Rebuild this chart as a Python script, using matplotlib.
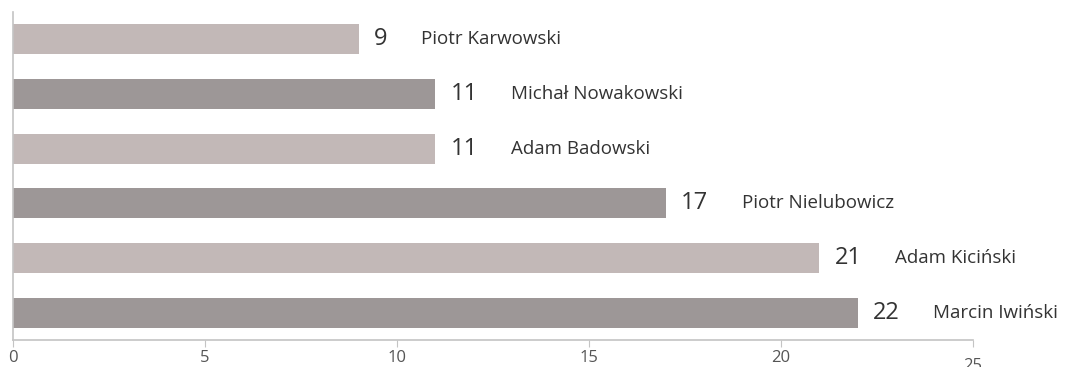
import matplotlib
matplotlib.use("Agg")
import matplotlib.pyplot as plt
from matplotlib.transforms import ScaledTranslation

names = ["Piotr Karwowski", "Michał Nowakowski", "Adam Badowski",
         "Piotr Nielubowicz", "Adam Kiciński", "Marcin Iwiński"]
values = [9, 11, 11, 17, 21, 22]
ticks = [0, 5, 10, 15, 20, 25]

light = "#c2b8b7"
dark = "#9d9797"
colors = [light if i % 2 == 0 else dark for i in range(len(values))]

plt.rcParams["font.family"] = ["Open Sans", "DejaVu Sans"]

fig = plt.figure(figsize=(10.8, 3.67), dpi=100)
ax = fig.add_axes([13 / 1080, 27 / 367, 960 / 1080, 328 / 367])

ypos = list(range(len(values)))
ax.barh(ypos, values, height=0.55, color=colors)
ax.set_ylim(len(values) - 0.5, -0.5)
ax.set_xlim(0, 25)

for y, v, n in zip(ypos, values, names):
    num = ax.annotate(str(v), xy=(v, y), xytext=(11, 0), textcoords="offset points",
                      va="center", ha="left", fontsize=17, color="#333333")
    ax.annotate(n, xy=(1, 0.5), xycoords=num, xytext=(24, 0),
                textcoords="offset points", va="center", ha="left",
                fontsize=13.5, color="#333333")

for s in ("top", "right"):
    ax.spines[s].set_visible(False)
for s in ("left", "bottom"):
    ax.spines[s].set_color("#c4c4c4")
    ax.spines[s].set_linewidth(1.2)

ax.set_yticks([])
ax.set_xticks(ticks)
ax.set_xticklabels([str(t) for t in ticks])
ax.tick_params(axis="x", length=5, color="#c4c4c4", labelsize=12,
               labelcolor="#555555", pad=2)
last = ax.get_xticklabels()[-1]
last.set_transform(last.get_transform() + ScaledTranslation(0, -8 / 100, fig.dpi_scale_trans))

fig.savefig("out.png", dpi=100)
